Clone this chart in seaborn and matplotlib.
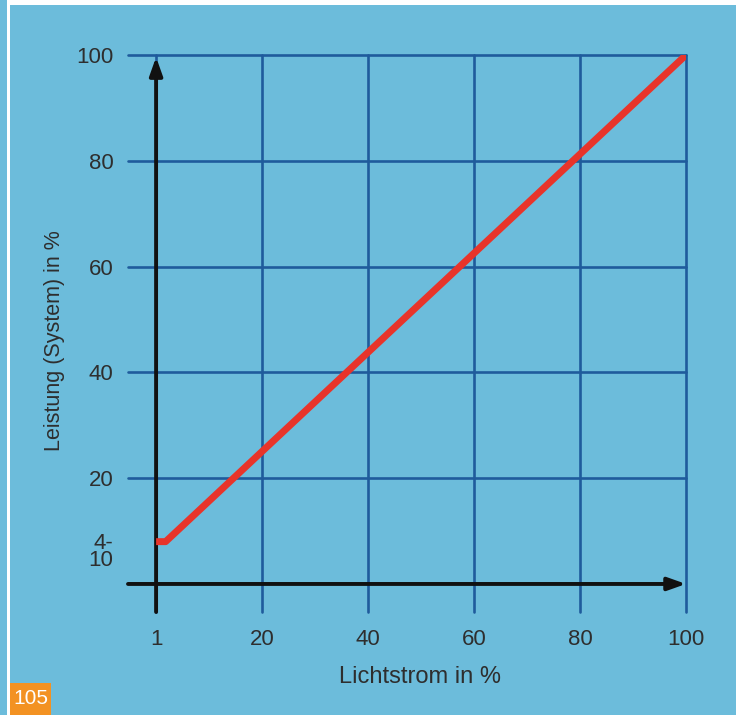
import matplotlib
matplotlib.use("Agg")
import matplotlib.pyplot as plt
from matplotlib.patches import Rectangle
import seaborn as sns

# Daten
lichtstrom = [0, 1.8, 100]      # x-Position, 0 entspricht "1"
leistung = [8, 8, 100]

x_ticks = [0, 20, 40, 60, 80, 100]
x_labels = ["1", "20", "40", "60", "80", "100"]
y_ticks = [6.2, 20, 40, 60, 80, 100]
y_labels = ["4-\n10", "20", "40", "60", "80", "100"]

blau = "#6cbcdb"
gitter = "#1f5b9c"
rot = "#e8342a"
text_farbe = "#2e2e2e"

sns.set_theme(style="white")
plt.rcParams['font.family'] = ['Liberation Sans', 'DejaVu Sans']

fig = plt.figure(figsize=(7.43, 7.15), dpi=100, facecolor="white")
W, H = 743, 715
# Hintergrund
fig.patches.append(Rectangle((0, 0), 7 / W, 1, transform=fig.transFigure,
                             facecolor=blau, edgecolor="none", zorder=-10))
fig.patches.append(Rectangle((10 / W, 0), 726 / W, 710 / H, transform=fig.transFigure,
                             facecolor=blau, edgecolor="none", zorder=-10))

ax = fig.add_axes([128 / W, 1 - 612 / H, 558 / W, 557 / H])
ax.set_facecolor("none")

sns.lineplot(x=lichtstrom, y=leistung, ax=ax, color=rot, linewidth=5,
             zorder=5, solid_capstyle="butt")

ax.set_xlim(-5.3, 100)
ax.set_ylim(-5.3, 100)
ax.set_xticks(x_ticks)
ax.set_xticklabels(x_labels)
ax.set_yticks(y_ticks)
ax.set_yticklabels(y_labels, linespacing=0.8)
ax.tick_params(length=0, labelsize=16, colors=text_farbe)
ax.tick_params(axis="x", pad=12)
ax.tick_params(axis="y", pad=10.5)

ax.grid(True, color=gitter, linewidth=1.9)
for gl in ax.xaxis.get_gridlines() + ax.yaxis.get_gridlines():
    gl.set_clip_on(False)
ax.yaxis.get_gridlines()[0].set_visible(False)
for s in ax.spines.values():
    s.set_visible(False)

# Achsen mit Pfeilen
pfeil = dict(arrowstyle="-|>,head_length=0.9,head_width=0.32", lw=2.8,
             color="#111111", shrinkA=0, shrinkB=0)
ax.annotate("", xy=(0, 99.6), xytext=(0, -5.3), arrowprops=pfeil, zorder=4,
            annotation_clip=False)
ax.annotate("", xy=(100, 0), xytext=(-5.3, 0), arrowprops=pfeil, zorder=4,
            annotation_clip=False)

ax.set_xlabel("Lichtstrom in %", fontsize=17, color=text_farbe)
ax.set_ylabel("Leistung (System) in %", fontsize=15.5, color=text_farbe)
ax.xaxis.set_label_coords((420 - 128) / 558, (612 - 677) / 557)
ax.yaxis.set_label_coords((55 - 128) / 558, (612 - 341) / 557)
ax.xaxis.label.set_va("center")
ax.yaxis.label.set_va("center")

# Seitenzahl
fig.patches.append(Rectangle((10 / W, 0), 41 / W, 32 / H, transform=fig.transFigure,
                             facecolor="#f39222", edgecolor="none", zorder=1))
fig.text(30.5 / W, 16 / H, "105", color="white", fontsize=15, ha="center",
         va="center", fontweight="light")

fig.savefig("out.png", dpi=100, facecolor=fig.get_facecolor())
